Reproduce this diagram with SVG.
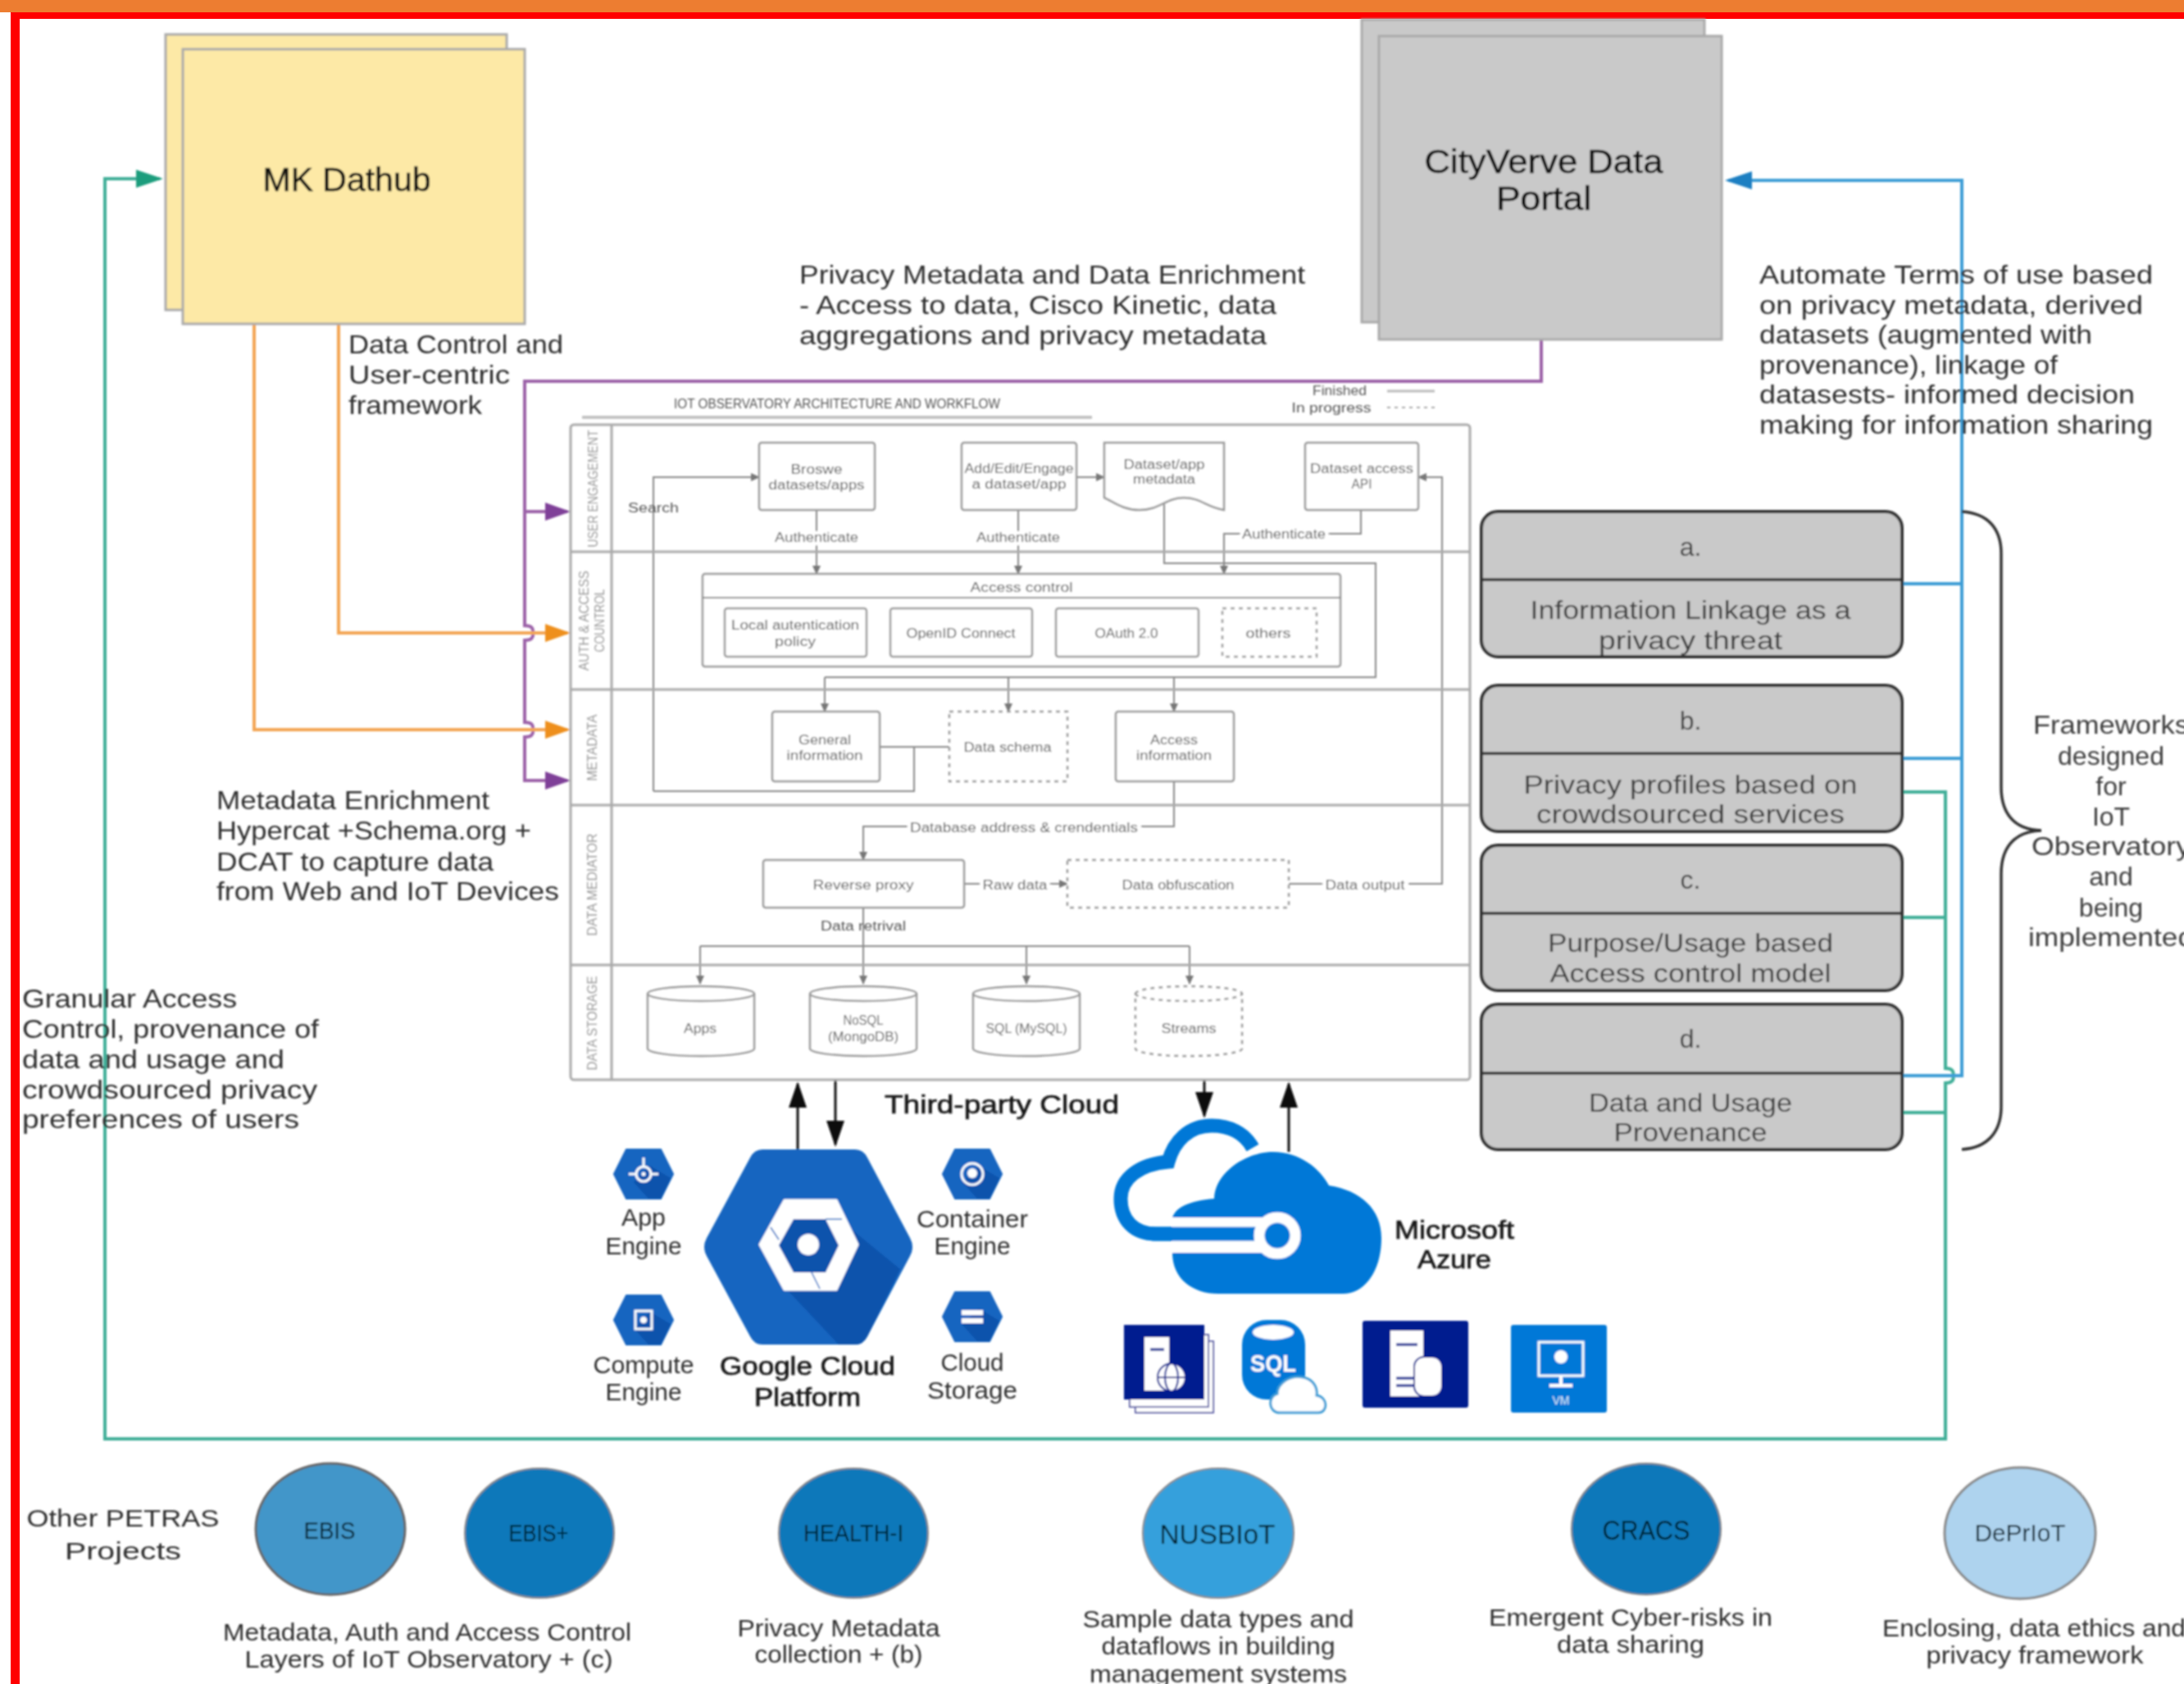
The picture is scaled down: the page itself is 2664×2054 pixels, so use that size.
<svg xmlns="http://www.w3.org/2000/svg" xmlns:xlink="http://www.w3.org/1999/xlink" width="2664" height="2054" viewBox="0 0 2664 2054">
<style>
text{font-family:"Liberation Sans",Arial,sans-serif}
.t{font-size:32px;fill:#2e2e2e}
.tc{font-size:32px;fill:#3c3c3c;text-anchor:middle}
.h{font-size:40px;fill:#111;text-anchor:middle;stroke:#111;stroke-width:.5px}
.m{font-size:30px;fill:#2e2e2e;text-anchor:middle}
.b{font-size:32px;fill:#1a1a1a;text-anchor:middle;stroke:#1a1a1a;stroke-width:.7px}
.a{font-size:16px;fill:#555;text-anchor:middle}
.ab{font-size:16px;fill:#555;text-anchor:middle;paint-order:stroke;stroke:#fff;stroke-width:8px}
.l{font-size:17px;fill:#999;text-anchor:middle}
.c{font-size:30px;fill:#06202f;text-anchor:middle}
.box{fill:#fff;stroke:#999;stroke-width:2.5}
.dash{fill:#fff;stroke:#999;stroke-width:2.5;stroke-dasharray:5 5}
.ln{fill:none;stroke:#aaa;stroke-width:3}
.ar{fill:none;stroke:#888;stroke-width:2}
.arm{fill:none;stroke:#888;stroke-width:2;marker-end:url(#ga)}
.pur{fill:none;stroke:#9c62a8;stroke-width:4;marker-end:url(#pa)}
.pu{fill:none;stroke:#9c62a8;stroke-width:4}
.or{fill:none;stroke:#f3a552;stroke-width:4;marker-end:url(#oa)}
.gr{fill:none;stroke:#3fae98;stroke-width:4}
.bl{fill:none;stroke:#3d9dd6;stroke-width:4}
.blk{fill:none;stroke:#111;stroke-width:3}
.fw{fill:#c9c9c9;stroke:#333;stroke-width:4}
.hx{fill:#1565c0}
.hd{fill:#0d52ac}
.w{fill:#fff}
.wl{fill:none;stroke:#fff;stroke-width:3}
</style>
<defs>
<filter id="soft" filterUnits="userSpaceOnUse" x="0" y="0" width="2664" height="2054"><feGaussianBlur stdDeviation="1"/></filter>
<marker id="ga" markerUnits="userSpaceOnUse" markerWidth="12" markerHeight="10" refX="10" refY="5" orient="auto"><path d="M0 0L11 5L0 10z" fill="#777"/></marker>
<marker id="pa" markerUnits="userSpaceOnUse" markerWidth="34" markerHeight="24" refX="27" refY="11" orient="auto"><path d="M0 0L31 11L0 22z" fill="#7f3f98"/></marker>
<marker id="oa" markerUnits="userSpaceOnUse" markerWidth="34" markerHeight="24" refX="27" refY="11" orient="auto"><path d="M0 0L31 11L0 22z" fill="#ee8f1d"/></marker>
<marker id="ta" markerUnits="userSpaceOnUse" markerWidth="36" markerHeight="24" refX="29" refY="11" orient="auto"><path d="M0 0L33 11L0 22z" fill="#1f9d7d"/></marker>
<marker id="ba" markerUnits="userSpaceOnUse" markerWidth="36" markerHeight="24" refX="29" refY="11" orient="auto"><path d="M0 0L33 11L0 22z" fill="#1a7fc2"/></marker>
<marker id="ka" markerUnits="userSpaceOnUse" markerWidth="36" markerHeight="24" refX="29" refY="11" orient="auto"><path d="M0 0L32 11L0 22z" fill="#111"/></marker>
<g id="cyl"><path d="M0 9A65 9 0 0 1 130 9V76A65 9 0 0 1 0 76Z"/><path d="M0 9A65 9 0 0 0 130 9" fill="none"/></g>
<g id="hex"><polygon class="hx" points="-21,-30 21,-30 36,0 21,30 -21,30 -36,0" stroke="#1565c0" stroke-width="2" stroke-linejoin="round"/><polygon class="hd" points="8,-10 33,5 21,30 6,30 -12,10"/></g>
</defs>
<rect width="2664" height="2054" fill="#fff"/>
<g id="frame"><rect width="2664" height="15" fill="#ed7d31"/><rect x="13" y="15" width="2651" height="8" fill="#f00"/><rect x="13" y="15" width="11" height="2039" fill="#f00"/></g>
<g filter="url(#soft)">
<g id="connectors">
<path class="pu" d="M1880 414V465H640V763C648 763 651 766 650 772C651 778 648 781 640 781V881C648 881 651 884 650 890C651 896 648 899 640 899V952H692" style="marker-end:url(#pa)"/>
<path class="pur" d="M640 624H692"/>
<path class="or" d="M413 395V772H692"/>
<path class="or" d="M310 395V890H692"/>
<path class="gr" d="M2320 966H2373V1303C2381 1303 2384 1307 2382 1312C2384 1317 2381 1321 2373 1321V1755H128V218H195" style="marker-end:url(#ta)"/>
<path class="gr" d="M2320 1119H2373M2320 1357H2373"/>
<path class="bl" d="M2320 1312H2393V220H2108" style="marker-end:url(#ba)"/>
<path class="bl" d="M2320 712H2393M2320 925H2393"/>
<path class="blk" d="M973 1402V1322" style="marker-end:url(#ka)"/>
<path class="blk" d="M1019 1318V1396" style="marker-end:url(#ka)"/>
<path class="blk" d="M1469 1318V1361" style="marker-end:url(#ka)"/>
<path class="blk" d="M1572 1405V1322" style="marker-end:url(#ka)"/>
<path class="arm" d="M797 965V582H926"/>
<path class="ar" d="M797 965H1115V911" stroke-width="3"/>
<path class="ar" d="M1073 911H1158"/>
<path class="arm" d="M996 622V700"/>
<path class="arm" d="M1242 622V700"/>
<path class="arm" d="M1313 582H1347"/>
<path class="arm" d="M1660 622V651H1493V700"/>
<path class="ar" d="M1420 615V687H1678V826H1006"/>
<path class="arm" d="M1006 826V868"/>
<path class="arm" d="M1230 826V868"/>
<path class="arm" d="M1432 826V868"/>
<path class="arm" d="M1432 953V1008H1053V1049"/>
<path class="arm" d="M1176 1078H1302"/>
<path class="arm" d="M1572 1078H1759V582H1730"/>
<path class="arm" d="M1053 1107V1200"/>
<path class="ar" d="M854 1154H1451"/>
<path class="arm" d="M854 1154V1200"/>
<path class="arm" d="M1252 1154V1200"/>
<path class="arm" d="M1451 1154V1200"/>
</g>
<g id="mk-dathub"><rect x="202" y="42" width="416" height="336" fill="#fde9a6" stroke="#aaa" stroke-width="3"/><rect x="223" y="60" width="417" height="335" fill="#fde9a6" stroke="#aaa" stroke-width="3"/><text class="h" x="423" y="233" textLength="205" lengthAdjust="spacingAndGlyphs">MK Dathub</text></g>
<g id="cityverve"><rect x="1661" y="24" width="418" height="369" fill="#c9c9c9" stroke="#aaa" stroke-width="3"/><rect x="1682" y="44" width="418" height="370" fill="#c9c9c9" stroke="#aaa" stroke-width="3"/><text class="h" x="1883" y="211" textLength="291" lengthAdjust="spacingAndGlyphs">CityVerve Data</text><text class="h" x="1883" y="256" textLength="116" lengthAdjust="spacingAndGlyphs">Portal</text></g>
<g id="note-privacy"><text class="t" x="975" y="346" textLength="617" lengthAdjust="spacingAndGlyphs">Privacy Metadata and Data Enrichment</text><text class="t" x="975" y="383" textLength="582" lengthAdjust="spacingAndGlyphs">- Access to data, Cisco Kinetic, data</text><text class="t" x="975" y="420" textLength="570" lengthAdjust="spacingAndGlyphs">aggregations and privacy metadata</text></g>
<g id="note-terms"><text class="t" x="2146" y="346" textLength="480" lengthAdjust="spacingAndGlyphs">Automate Terms of use based</text><text class="t" x="2146" y="383" textLength="468" lengthAdjust="spacingAndGlyphs">on privacy metadata, derived</text><text class="t" x="2146" y="419" textLength="406" lengthAdjust="spacingAndGlyphs">datasets (augmented with</text><text class="t" x="2146" y="456" textLength="364" lengthAdjust="spacingAndGlyphs">provenance), linkage of</text><text class="t" x="2146" y="492" textLength="458" lengthAdjust="spacingAndGlyphs">datasests- informed decision</text><text class="t" x="2146" y="529" textLength="480" lengthAdjust="spacingAndGlyphs">making for information sharing</text></g>
<g id="note-control"><text class="t" x="425" y="431" textLength="262" lengthAdjust="spacingAndGlyphs">Data Control and</text><text class="t" x="425" y="468" textLength="197" lengthAdjust="spacingAndGlyphs">User-centric</text><text class="t" x="425" y="505" textLength="163" lengthAdjust="spacingAndGlyphs">framework</text></g>
<g id="note-enrich"><text class="t" x="264" y="987" textLength="333" lengthAdjust="spacingAndGlyphs">Metadata Enrichment</text><text class="t" x="264" y="1024" textLength="384" lengthAdjust="spacingAndGlyphs">Hypercat +Schema.org +</text><text class="t" x="264" y="1062" textLength="338" lengthAdjust="spacingAndGlyphs">DCAT to capture data</text><text class="t" x="264" y="1098" textLength="418" lengthAdjust="spacingAndGlyphs">from Web and IoT Devices</text></g>
<g id="note-granular"><text class="t" x="27" y="1229" textLength="262" lengthAdjust="spacingAndGlyphs">Granular Access</text><text class="t" x="27" y="1266" textLength="362" lengthAdjust="spacingAndGlyphs">Control, provenance of</text><text class="t" x="27" y="1303" textLength="320" lengthAdjust="spacingAndGlyphs">data and usage and</text><text class="t" x="27" y="1340" textLength="360" lengthAdjust="spacingAndGlyphs">crowdsourced privacy</text><text class="t" x="27" y="1376" textLength="338" lengthAdjust="spacingAndGlyphs">preferences of users</text></g>
<g id="architecture">
<rect x="696" y="518" width="1097" height="799" rx="4" class="ln"/>
<path class="ln" d="M746 518V1317M696 673H1793M696 841H1793M696 982H1793M696 1177H1793"/>
<text class="a" x="1021" y="498" font-size="15" textLength="398" lengthAdjust="spacingAndGlyphs">IOT OBSERVATORY ARCHITECTURE AND WORKFLOW</text>
<path d="M710 509H1332" stroke="#bbb" stroke-width="3.5"/>
<text class="a" x="1634" y="482" textLength="66" lengthAdjust="spacingAndGlyphs">Finished</text><path d="M1692 477H1750" stroke="#bbb" stroke-width="3"/>
<text class="a" x="1624" y="503" textLength="97" lengthAdjust="spacingAndGlyphs">In progress</text><path d="M1692 497H1750" stroke="#aaa" stroke-width="2" stroke-dasharray="4 5"/>
<text class="l" transform="translate(729,596) rotate(-90)" textLength="143" lengthAdjust="spacingAndGlyphs">USER ENGAGEMENT</text>
<text class="l" transform="translate(718,757) rotate(-90)" textLength="122" lengthAdjust="spacingAndGlyphs">AUTH &amp; ACCESS</text>
<text class="l" transform="translate(737,757) rotate(-90)" textLength="77" lengthAdjust="spacingAndGlyphs">COUNTROL</text>
<text class="l" transform="translate(728,912) rotate(-90)" textLength="81" lengthAdjust="spacingAndGlyphs">METADATA</text>
<text class="l" transform="translate(728,1079) rotate(-90)" textLength="125" lengthAdjust="spacingAndGlyphs">DATA MEDIATOR</text>
<text class="l" transform="translate(728,1248) rotate(-90)" textLength="115" lengthAdjust="spacingAndGlyphs">DATA STORAGE</text>
</g>
<g id="browse"><rect class="box" x="926" y="540" width="141" height="82" rx="3"/><text class="a" x="996" y="578" textLength="63" lengthAdjust="spacingAndGlyphs">Broswe</text><text class="a" x="996" y="597" textLength="117" lengthAdjust="spacingAndGlyphs">datasets/apps</text></g>
<g id="add-edit"><rect class="box" x="1173" y="540" width="140" height="82" rx="3"/><text class="a" x="1243" y="577" textLength="133" lengthAdjust="spacingAndGlyphs">Add/Edit/Engage</text><text class="a" x="1243" y="596" textLength="115" lengthAdjust="spacingAndGlyphs">a dataset/app</text></g>
<g id="metadata-doc"><path class="box" d="M1347 540H1493V622C1470 618 1465 607 1444 607C1422 607 1415 622 1390 622C1370 622 1358 612 1347 607Z"/><text class="a" x="1420" y="572" textLength="99" lengthAdjust="spacingAndGlyphs">Dataset/app</text><text class="a" x="1420" y="590" textLength="76" lengthAdjust="spacingAndGlyphs">metadata</text></g>
<g id="api"><rect class="box" x="1592" y="540" width="138" height="82" rx="3"/><text class="a" x="1661" y="577" textLength="126" lengthAdjust="spacingAndGlyphs">Dataset access</text><text class="a" x="1661" y="596" textLength="25" lengthAdjust="spacingAndGlyphs">API</text></g>
<g id="access-control"><rect class="box" x="857" y="700" width="778" height="113" rx="3"/><path class="ar" d="M857 729H1635" stroke="#999" stroke-width="2.5"/><text class="a" x="1246" y="722" textLength="125" lengthAdjust="spacingAndGlyphs">Access control</text></g>
<g id="local-auth"><rect class="box" x="884" y="742" width="173" height="59" rx="3"/><text class="a" x="970" y="768" textLength="156" lengthAdjust="spacingAndGlyphs">Local autentication</text><text class="a" x="970" y="788" textLength="50" lengthAdjust="spacingAndGlyphs">policy</text></g>
<g id="openid"><rect class="box" x="1086" y="742" width="173" height="59" rx="3"/><text class="a" x="1172" y="778" textLength="133" lengthAdjust="spacingAndGlyphs">OpenID Connect</text></g>
<g id="oauth"><rect class="box" x="1288" y="742" width="174" height="59" rx="3"/><text class="a" x="1374" y="778" textLength="77" lengthAdjust="spacingAndGlyphs">OAuth 2.0</text></g>
<g id="others"><rect class="dash" x="1491" y="742" width="115" height="59"/><text class="a" x="1547" y="778" textLength="55" lengthAdjust="spacingAndGlyphs">others</text></g>
<g id="general"><rect class="box" x="942" y="868" width="131" height="85" rx="3"/><text class="a" x="1006" y="908" textLength="64" lengthAdjust="spacingAndGlyphs">General</text><text class="a" x="1006" y="927" textLength="93" lengthAdjust="spacingAndGlyphs">information</text></g>
<g id="schema"><rect class="dash" x="1158" y="868" width="144" height="85"/><text class="a" x="1229" y="917" textLength="107" lengthAdjust="spacingAndGlyphs">Data schema</text></g>
<g id="access-info"><rect class="box" x="1361" y="868" width="144" height="85" rx="3"/><text class="a" x="1432" y="908" textLength="58" lengthAdjust="spacingAndGlyphs">Access</text><text class="a" x="1432" y="927" textLength="92" lengthAdjust="spacingAndGlyphs">information</text></g>
<g id="proxy"><rect class="box" x="931" y="1049" width="245" height="58" rx="3"/><text class="a" x="1053" y="1085" textLength="123" lengthAdjust="spacingAndGlyphs">Reverse proxy</text></g>
<g id="obfuscation"><rect class="dash" x="1302" y="1049" width="270" height="58"/><text class="a" x="1437" y="1085" textLength="137" lengthAdjust="spacingAndGlyphs">Data obfuscation</text></g>
<g id="apps"><use xlink:href="#cyl" href="#cyl" x="790" y="1203" class="box"/><text class="a" x="854" y="1260" textLength="40" lengthAdjust="spacingAndGlyphs">Apps</text></g>
<g id="nosql"><use xlink:href="#cyl" href="#cyl" x="988" y="1203" class="box"/><text class="a" x="1053" y="1250" textLength="49" lengthAdjust="spacingAndGlyphs">NoSQL</text><text class="a" x="1053" y="1270" textLength="86" lengthAdjust="spacingAndGlyphs">(MongoDB)</text></g>
<g id="sql"><use xlink:href="#cyl" href="#cyl" x="1187" y="1203" class="box"/><text class="a" x="1252" y="1260" textLength="99" lengthAdjust="spacingAndGlyphs">SQL (MySQL)</text></g>
<g id="streams"><use xlink:href="#cyl" href="#cyl" x="1385" y="1203" class="dash"/><text class="a" x="1450" y="1260" textLength="67" lengthAdjust="spacingAndGlyphs">Streams</text></g>
<g id="connector-labels">
<text class="a" x="797" y="625" textLength="62" lengthAdjust="spacingAndGlyphs">Search</text>
<text class="ab" x="996" y="661" textLength="102" lengthAdjust="spacingAndGlyphs">Authenticate</text>
<text class="ab" x="1242" y="661" textLength="102" lengthAdjust="spacingAndGlyphs">Authenticate</text>
<text class="ab" x="1566" y="657" textLength="102" lengthAdjust="spacingAndGlyphs">Authenticate</text>
<text class="ab" x="1249" y="1015" textLength="278" lengthAdjust="spacingAndGlyphs">Database address &amp; crendentials</text>
<text class="ab" x="1238" y="1085" textLength="79" lengthAdjust="spacingAndGlyphs">Raw data</text>
<text class="ab" x="1665" y="1085" textLength="97" lengthAdjust="spacingAndGlyphs">Data output</text>
<text class="a" x="1053" y="1135" textLength="104" lengthAdjust="spacingAndGlyphs">Data retrival</text>
</g>
<g id="fw-a"><rect class="fw" x="1807" y="624" width="513" height="177" rx="20"/><path d="M1807 707H2320" stroke="#333" stroke-width="3.5"/><text class="tc" x="2062" y="678">a.</text><text class="tc" x="2062" y="755" textLength="391" lengthAdjust="spacingAndGlyphs">Information Linkage as a</text><text class="tc" x="2062" y="792" textLength="224" lengthAdjust="spacingAndGlyphs">privacy threat</text></g>
<g id="fw-b"><rect class="fw" x="1807" y="836" width="513" height="178" rx="20"/><path d="M1807 919H2320" stroke="#333" stroke-width="3.5"/><text class="tc" x="2062" y="890">b.</text><text class="tc" x="2062" y="968" textLength="407" lengthAdjust="spacingAndGlyphs">Privacy profiles based on</text><text class="tc" x="2062" y="1004" textLength="376" lengthAdjust="spacingAndGlyphs">crowdsourced services</text></g>
<g id="fw-c"><rect class="fw" x="1807" y="1031" width="513" height="177" rx="20"/><path d="M1807 1114H2320" stroke="#333" stroke-width="3.5"/><text class="tc" x="2062" y="1084">c.</text><text class="tc" x="2062" y="1161" textLength="348" lengthAdjust="spacingAndGlyphs">Purpose/Usage based</text><text class="tc" x="2062" y="1198" textLength="343" lengthAdjust="spacingAndGlyphs">Access control model</text></g>
<g id="fw-d"><rect class="fw" x="1807" y="1225" width="513" height="177" rx="20"/><path d="M1807 1309H2320" stroke="#333" stroke-width="3.5"/><text class="tc" x="2062" y="1278">d.</text><text class="tc" x="2062" y="1356" textLength="248" lengthAdjust="spacingAndGlyphs">Data and Usage</text><text class="tc" x="2062" y="1392" textLength="187" lengthAdjust="spacingAndGlyphs">Provenance</text></g>
<g id="frameworks-brace"><path d="M2393 624C2425 626 2441 645 2441 675V960C2441 990 2455 1012 2490 1013C2455 1014 2441 1036 2441 1066V1350C2441 1380 2425 1400 2393 1402" fill="none" stroke="#333" stroke-width="3.5"/>
<text class="tc" x="2575" y="895" textLength="190" lengthAdjust="spacingAndGlyphs">Frameworks</text><text class="tc" x="2575" y="933">designed</text><text class="tc" x="2575" y="970">for</text><text class="tc" x="2575" y="1007">IoT</text><text class="tc" x="2575" y="1043" textLength="194" lengthAdjust="spacingAndGlyphs">Observatory</text><text class="tc" x="2575" y="1080">and</text><text class="tc" x="2575" y="1118">being</text><text class="tc" x="2575" y="1154" textLength="202" lengthAdjust="spacingAndGlyphs">implemented</text></g>
<g id="third-party"><text class="b" x="1222" y="1358" textLength="286" lengthAdjust="spacingAndGlyphs">Third-party Cloud</text></g>
<g id="gcp">
<path class="hx" d="M930 1402H1043Q1053 1402 1058 1412L1110 1510Q1116 1521 1110 1532L1058 1630Q1053 1640 1043 1640H930Q920 1640 915 1630L862 1532Q856 1521 862 1510L915 1412Q920 1402 930 1402Z"/>
<path class="hd" d="M1027 1490L1098 1548L1058 1630Q1053 1640 1043 1640H1023L960 1573Z"/>
<polygon class="w" points="957,1464 1020,1464 1046,1518 1020,1573 957,1573 927,1518" stroke="#fff" stroke-width="3" stroke-linejoin="round"/>
<polygon points="968,1487 1007,1487 1023,1519 1007,1552 968,1552 950,1519" fill="#0d52ac"/>
<circle cx="986" cy="1518" r="13" fill="#fff"/>
<path d="M1007 1487H1027M940 1497L950 1512M1000 1572L990 1552" stroke="#1565c0" stroke-width="1.5" fill="none"/>
<text class="b" x="985" y="1677" textLength="214" lengthAdjust="spacingAndGlyphs">Google Cloud</text><text class="b" x="985" y="1715" textLength="130" lengthAdjust="spacingAndGlyphs">Platform</text>
</g>
<g id="app-engine"><use xlink:href="#hex" href="#hex" x="785" y="1432"/><circle cx="785" cy="1432" r="9" class="wl"/><circle cx="785" cy="1432" r="2.5" class="w"/><path class="wl" d="M785 1412V1422M767 1432H775M795 1432H803"/><text class="m" x="785" y="1495" textLength="54" lengthAdjust="spacingAndGlyphs">App</text><text class="m" x="785" y="1530" textLength="93" lengthAdjust="spacingAndGlyphs">Engine</text></g>
<g id="compute-engine"><use xlink:href="#hex" href="#hex" x="785" y="1610"/><rect x="775" y="1599" width="20" height="22" class="wl"/><circle cx="785" cy="1610" r="4" class="w"/><text class="m" x="785" y="1675" textLength="123" lengthAdjust="spacingAndGlyphs">Compute</text><text class="m" x="785" y="1708" textLength="93" lengthAdjust="spacingAndGlyphs">Engine</text></g>
<g id="container-engine"><use xlink:href="#hex" href="#hex" x="1186" y="1432"/><circle cx="1186" cy="1432" r="13" class="wl"/><circle cx="1186" cy="1431" r="6" class="w"/><text class="m" x="1186" y="1497" textLength="136" lengthAdjust="spacingAndGlyphs">Container</text><text class="m" x="1186" y="1530" textLength="93" lengthAdjust="spacingAndGlyphs">Engine</text></g>
<g id="cloud-storage"><use xlink:href="#hex" href="#hex" x="1186" y="1606"/><rect x="1173" y="1598" width="26" height="6" class="w"/><rect x="1173" y="1608" width="26" height="6" class="w"/><text class="m" x="1186" y="1672" textLength="77" lengthAdjust="spacingAndGlyphs">Cloud</text><text class="m" x="1186" y="1706" textLength="110" lengthAdjust="spacingAndGlyphs">Storage</text></g>
<g id="azure">
<path d="M1528 1400C1518 1382 1500 1373 1478 1373C1450 1373 1432 1392 1425 1417C1390 1420 1367 1437 1367 1462C1367 1488 1383 1505 1410 1505H1556" fill="none" stroke="#0078d7" stroke-width="17"/>
<path d="M1553 1405C1585 1405 1610 1425 1621 1446C1660 1452 1685 1475 1685 1510C1685 1550 1665 1578 1638 1578H1486C1455 1578 1430 1560 1430 1528V1485C1435 1472 1450 1465 1481 1462C1482 1430 1520 1405 1553 1405Z" fill="#0078d7"/>
<path d="M1430 1485H1540V1528H1430Z" fill="#fff"/>
<path d="M1405 1505H1556" stroke="#0078d7" stroke-width="17"/>
<circle cx="1558" cy="1507" r="22" fill="#0078d7" stroke="#fff" stroke-width="13"/>
<text class="b" x="1774" y="1511" textLength="146" lengthAdjust="spacingAndGlyphs">Microsoft</text><text class="b" x="1774" y="1547" textLength="90" lengthAdjust="spacingAndGlyphs">Azure</text>
</g>
<g id="azure-web"><rect x="1385" y="1636" width="95" height="87" fill="#fff" stroke="#5b5fa8" stroke-width="2"/><rect x="1378" y="1628" width="96" height="88" fill="#fff" stroke="#5b5fa8" stroke-width="2"/><rect x="1371" y="1616" width="98" height="91" fill="#001a8f"/><rect x="1396" y="1631" width="30" height="65" fill="#fff"/><path d="M1403 1646H1420" stroke="#001a8f" stroke-width="3"/><circle cx="1429" cy="1680" r="17" fill="#fff" stroke="#001a8f" stroke-width="2"/><ellipse cx="1429" cy="1680" rx="8" ry="17" fill="none" stroke="#001a8f" stroke-width="2"/><path d="M1412 1680H1446" stroke="#001a8f" stroke-width="2"/></g>
<g id="azure-sql"><rect x="1515" y="1610" width="77" height="97" rx="30" fill="#0078d7"/><ellipse cx="1553" cy="1625" rx="25" ry="9" fill="#fff"/><text x="1553" y="1673" fill="#fff" font-size="30" font-weight="bold" text-anchor="middle" textLength="56" lengthAdjust="spacingAndGlyphs">SQL</text><path d="M1561 1723C1547 1723 1546 1703 1558 1700C1558 1688 1573 1676 1590 1680C1604 1683 1607 1695 1606 1702C1620 1704 1620 1723 1608 1723Z" fill="#fff" stroke="#3d9dd6" stroke-width="3"/></g>
<g id="azure-db"><rect x="1662" y="1611" width="129" height="106" rx="3" fill="#001a8f"/><rect x="1696" y="1623" width="40" height="80" fill="#fff"/><path d="M1703 1640H1729M1703 1681H1725M1703 1690H1725" stroke="#001a8f" stroke-width="3"/><rect x="1725" y="1655" width="34" height="48" rx="12" fill="#fff" stroke="#001a8f" stroke-width="2"/></g>
<g id="azure-vm"><rect x="1843" y="1616" width="117" height="107" rx="3" fill="#0078d7"/><rect x="1877" y="1637" width="54" height="41" fill="none" stroke="#fff" stroke-width="3"/><circle cx="1904" cy="1655" r="8" fill="#fff"/><path d="M1904 1678V1688M1890 1690H1918" stroke="#fff" stroke-width="4"/><text x="1904" y="1713" fill="#d8ecfa" font-size="14" text-anchor="middle">VM</text></g>
<g id="petras-label"><text class="m" x="150" y="1862" textLength="235" lengthAdjust="spacingAndGlyphs">Other PETRAS</text><text class="m" x="150" y="1902" textLength="142" lengthAdjust="spacingAndGlyphs">Projects</text></g>
<g id="ebis"><ellipse cx="403" cy="1865" rx="91" ry="80" fill="#4396c9" stroke="#666" stroke-width="3"/><text class="c" x="402" y="1877" textLength="63" lengthAdjust="spacingAndGlyphs">EBIS</text></g>
<g id="ebis-plus"><ellipse cx="658" cy="1870" rx="91" ry="79" fill="#0e78ba" stroke="#888" stroke-width="2"/><text class="c" x="657" y="1880" textLength="73" lengthAdjust="spacingAndGlyphs">EBIS+</text></g>
<g id="health-i"><ellipse cx="1041" cy="1870" rx="91" ry="79" fill="#0e78ba" stroke="#888" stroke-width="2"/><text class="c" x="1041" y="1880" textLength="122" lengthAdjust="spacingAndGlyphs">HEALTH-I</text></g>
<g id="nusbiot"><ellipse cx="1486" cy="1870" rx="92" ry="79" fill="#36a0dc" stroke="#888" stroke-width="2"/><text class="c" x="1485" y="1883" textLength="141" lengthAdjust="spacingAndGlyphs" style="font-size:34px">NUSBIoT</text></g>
<g id="cracs"><ellipse cx="2008" cy="1865" rx="91" ry="80" fill="#0e78ba" stroke="#888" stroke-width="2"/><text class="c" x="2008" y="1878" textLength="107" lengthAdjust="spacingAndGlyphs" style="font-size:34px">CRACS</text></g>
<g id="depriot"><ellipse cx="2464" cy="1870" rx="92" ry="80" fill="#aed3ee" stroke="#888" stroke-width="3"/><text class="c" x="2464" y="1880" textLength="111" lengthAdjust="spacingAndGlyphs">DePrIoT</text></g>
<g id="petras-notes">
<text class="m" x="521" y="2001" textLength="498" lengthAdjust="spacingAndGlyphs">Metadata, Auth and Access Control</text><text class="m" x="523" y="2034" textLength="449" lengthAdjust="spacingAndGlyphs">Layers of IoT Observatory + (c)</text>
<text class="m" x="1023" y="1996" textLength="247" lengthAdjust="spacingAndGlyphs">Privacy Metadata</text><text class="m" x="1023" y="2028" textLength="205" lengthAdjust="spacingAndGlyphs">collection + (b)</text>
<text class="m" x="1486" y="1985" textLength="331" lengthAdjust="spacingAndGlyphs">Sample data types and</text><text class="m" x="1486" y="2018" textLength="285" lengthAdjust="spacingAndGlyphs">dataflows in building</text><text class="m" x="1486" y="2052" textLength="314" lengthAdjust="spacingAndGlyphs">management systems</text>
<text class="m" x="1989" y="1983" textLength="346" lengthAdjust="spacingAndGlyphs">Emergent Cyber-risks in</text><text class="m" x="1989" y="2016" textLength="180" lengthAdjust="spacingAndGlyphs">data sharing</text>
<text class="m" x="2481" y="1996" textLength="370" lengthAdjust="spacingAndGlyphs">Enclosing, data ethics and</text><text class="m" x="2482" y="2029" textLength="265" lengthAdjust="spacingAndGlyphs">privacy framework</text>
</g>
</g>
</svg>
